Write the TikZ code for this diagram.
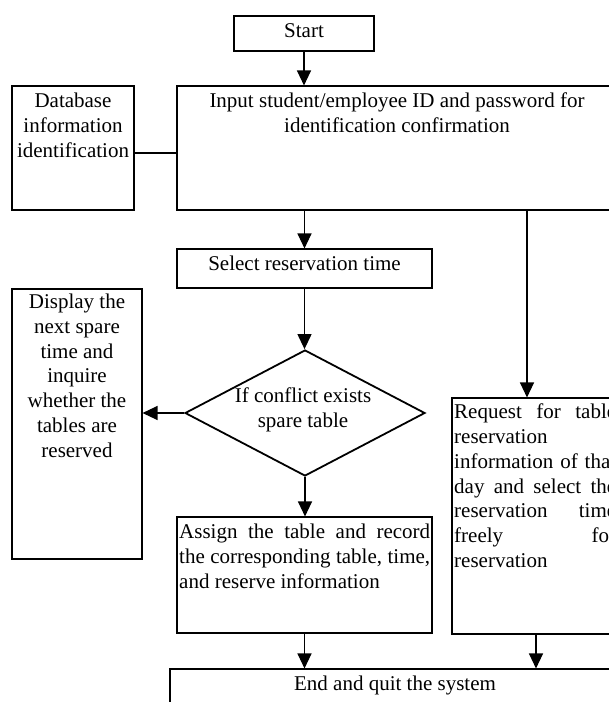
\documentclass[tikz,border=0pt]{standalone}
\usepackage{fontspec}
\setmainfont{Liberation Serif}
\usetikzlibrary{arrows.meta,shapes.geometric}
\begin{document}
\begin{tikzpicture}[x=1pt,y=-1pt,
  box/.style={draw, rectangle, line width=1.1pt, inner sep=0pt},
  txt/.style={inner sep=0pt, font=\fontsize{21}{24.8}\selectfont, align=center},
  jtxt/.style={inner sep=0pt, font=\fontsize{21}{24.8}\selectfont, align=left, anchor=north west},
  arr/.style={line width=1.2pt, -{Triangle[length=15pt,width=14pt]}},
  link/.style={line width=1.2pt}]
\clip (0,0) rectangle (609,702);
\fill[white] (0,0) rectangle (609,702);

% boxes
\node[box, minimum width=140pt, minimum height=35pt] (startbox) at (304,33.5) {};
\node[txt, anchor=base] (startt) at (304,37.3) {Start};

\node[box, minimum width=440pt, minimum height=124pt] (main) at (397,148) {};
\node[txt, anchor=north] (maint) at (397,92.7)
  {Input student/employee ID and password for\\identification confirmation};

\node[box, minimum width=122pt, minimum height=124pt] (db) at (73,148) {};
\node[txt, anchor=north] (dbt) at (73,92.7) {Database\\information\\identification};

\node[box, minimum width=255pt, minimum height=39pt] (select) at (304.5,268.5) {};
\node[txt, anchor=base] (selectt) at (304.5,270.7) {Select reservation time};

\node[draw, diamond, line width=1.8pt, inner sep=0pt,
      minimum width=240pt, minimum height=126pt] (cond) at (305,413) {};
\node[txt, anchor=north] (condt) at (303,387.4) {If conflict exists\\spare table};

\node[box, minimum width=130pt, minimum height=270pt] (display) at (77,424) {};
\node[txt, anchor=north] (displayt) at (77,293.7)
  {Display the\\next spare\\time and\\inquire\\whether the\\tables are\\reserved};

\node[box, minimum width=255pt, minimum height=116pt] (assign) at (304.5,575) {};
\node[jtxt] (assignt) at (179,523.7)
  {\makebox[251pt][s]{Assign the table and record}\\
   \makebox[251pt][s]{the corresponding table, time,}\\
   and reserve information};

\node[box, minimum width=168pt, minimum height=236pt] (request) at (536,516) {};
\node[jtxt] (requestt) at (454,403.7)
  {\makebox[162pt][s]{Request for table}\\
   reservation\\
   \makebox[162pt][s]{information of that}\\
   \makebox[162pt][s]{day and select the}\\
   \makebox[162pt][s]{reservation time}\\
   \makebox[162pt][s]{freely for}\\
   reservation};

\node[box, minimum width=450pt, minimum height=91pt] (endbox) at (395,714.5) {};
\node[txt, anchor=base] (endt) at (395,690) {End and quit the system};

% connectors
\draw[arr] (startbox.south) -- (startbox.south |- main.north);
\draw[link] ([yshift=-5pt]db.east) -- ([yshift=-5pt]db.east -| main.west);
\draw[arr] (select.north |- main.south) -- (select.north);
\draw[arr] ([xshift=-9pt]request.north |- main.south) -- ([xshift=-9pt]request.north);
\draw[arr] (select.south) -- (select.south |- cond.north);
\draw[arr] (cond.west) -- (cond.west -| display.east);
\draw[arr] (cond.south) -- (cond.south |- assign.north);
\draw[arr] (assign.south) -- (assign.south |- endbox.north);
\draw[arr] (request.south) -- (request.south |- endbox.north);
\end{tikzpicture}
\end{document}
